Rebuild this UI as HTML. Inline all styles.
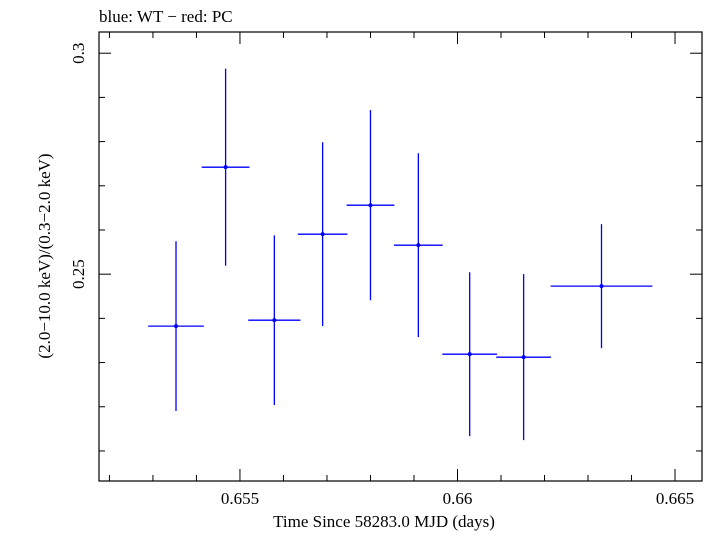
<!DOCTYPE html>
<html><head><meta charset="utf-8"><style>
body{margin:0;background:#fff;}
svg text{font-family:"Liberation Serif",serif;fill:#000;}
</style></head><body>
<svg id="chart" width="710" height="532" xmlns="http://www.w3.org/2000/svg"></svg>
<script>
const times=[0.65353,0.65467,0.65579,0.65690,0.65800,0.65910,0.66028,0.66152,0.66331];
const timeErr=[0.00064,0.00055,0.0006,0.00057,0.00055,0.00056,0.00063,0.00063,0.00117];
const ratios=[0.23824,0.27421,0.23959,0.25905,0.26561,0.25656,0.2319,0.23122,0.24729];
const ratioErr=[0.0192,0.0223,0.0192,0.0208,0.0215,0.0208,0.01855,0.01878,0.01403];
const xMajor=[0.655,0.66,0.665];
const xMajorLabels=["0.655","0.66","0.665"];
const yMajor=[0.25,0.3];
const yMajorLabels=["0.25","0.3"];
const L=99,R=702,T=32,B=481;
const xmin=0.65176,xmax=0.65562+0.01;
const ymin=0.2032,ymax=0.3048;
const X=v=>L+(v-xmin)/(xmax-xmin)*(R-L);
const Y=v=>B-(v-ymin)/(ymax-ymin)*(B-T);
const svg=document.getElementById('chart');
const NS='http://www.w3.org/2000/svg';
function mk(tag,attrs,name,parent){const e=document.createElementNS(NS,tag);for(const k in attrs)e.setAttribute(k,attrs[k]);


(parent||svg).appendChild(e);return e;}
mk('rect',{x:L,y:T,width:R-L,height:B-T,fill:'none',stroke:'#000','stroke-width':1.2},'plot-frame');
// x ticks
for(let i=0;i<=14;i++){const v=0.652+i*0.001;if(v>xmax)break;const px=X(v);const maj=Math.abs(((v*1000)%5))<1e-6||Math.abs(((v*1000)%5)-5)<1e-6;const len=maj?12:6;
mk('line',{x1:px,y1:B,x2:px,y2:B-len,stroke:'#000'},'x-tick');
mk('line',{x1:px,y1:T,x2:px,y2:T+len,stroke:'#000'},'x-tick-top');}
xMajor.forEach((v,i)=>{const t=mk('text',{x:X(v),y:504,'text-anchor':'middle','font-size':17},'x-tick-label');t.textContent=xMajorLabels[i];});
// y ticks
for(let i=0;i<=10;i++){const v=0.21+i*0.01;if(v>ymax)break;const py=Y(v);const maj=Math.abs(v-0.25)<1e-6||Math.abs(v-0.3)<1e-6;const len=maj?12:6;
mk('line',{x1:L,y1:py,x2:L+len,y2:py,stroke:'#000'},'y-tick');
mk('line',{x1:R,y1:py,x2:R-len,y2:py,stroke:'#000'},'y-tick-right');}
yMajor.forEach((v,i)=>{const py=Y(v);const t=mk('text',{x:0,y:0,transform:`translate(84,${py}) rotate(-90)`,'text-anchor':'middle','font-size':17},'y-tick-label');t.textContent=yMajorLabels[i];});
const xt=mk('text',{x:384,y:527,'text-anchor':'middle','font-size':17},'x-axis-title');xt.textContent='Time Since 58283.0 MJD (days)';
const yt=mk('text',{x:0,y:0,transform:'translate(50,256) rotate(-90)','text-anchor':'middle','font-size':17},'y-axis-title');yt.textContent='(2.0\u221210.0 keV)/(0.3\u22122.0 keV)';
const tt=mk('text',{x:99,y:22,'font-size':17},'chart-title');tt.textContent='blue: WT \u2212 red: PC';
const g=mk('g',{},'wt-series');
times.forEach((t,i)=>{const px=X(t),py=Y(ratios[i]);
mk('line',{x1:X(t-timeErr[i]),y1:py,x2:X(t+timeErr[i]),y2:py,stroke:'#0000ff','stroke-width':1.3},'x-error-bar',g);
mk('line',{x1:px,y1:Y(ratios[i]-ratioErr[i]),x2:px,y2:Y(ratios[i]+ratioErr[i]),stroke:'#0000ff','stroke-width':1.3},'y-error-bar',g);
mk('circle',{cx:px,cy:py,r:2,fill:'#0000ff'},'data-point',g);});
</script>
</body></html>
